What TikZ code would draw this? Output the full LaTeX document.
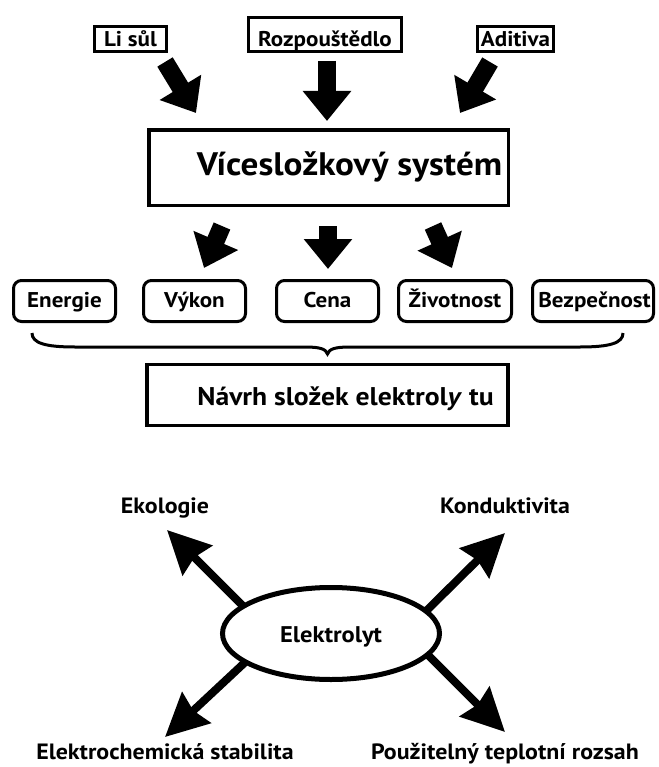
\documentclass[tikz,border=0pt]{standalone}
\usepackage{fontspec}
\setmainfont{PT Sans}[FakeStretch=1.08]
\usetikzlibrary{arrows.meta,shapes.geometric}
\begin{document}
\begin{tikzpicture}[x=0.75pt,y=-0.75pt,
  lbl/.style={anchor=base,inner sep=0pt,font=\fontsize{16}{20}\selectfont\bfseries},
  outlbl/.style={anchor=base,inner sep=0pt,font=\fontsize{16.6}{20}\selectfont\bfseries},
  biglbl/.style={anchor=base,inner sep=0pt,font=\fontsize{24.4}{28}\selectfont\bfseries},
  midlbl/.style={anchor=base,inner sep=0pt,font=\fontsize{19.2}{22}\selectfont\bfseries},
  sqbox/.style={draw,line width=2.25pt,inner sep=0pt,fill=white},
  bigbox/.style={draw,line width=2.6pt,inner sep=0pt,fill=white},
  rbox/.style={draw,line width=2.25pt,inner sep=0pt,rounded corners=6pt,minimum height=30.75pt},
  fatarrow/.style={line width=13.5pt,-{Triangle[length=22.5pt,width=35pt]}},
  slimarrow/.style={line width=6pt,-{Stealth[length=32pt,width=31pt,inset=3pt]}},
]
\useasboundingbox (0,0) rectangle (658,767);

% top inputs
\node[sqbox,minimum width=54pt,minimum height=18.75pt] (lisul) at (130.5,39) {};
\node[sqbox,minimum width=114.75pt,minimum height=25.5pt] (rozp) at (325,34.5) {};
\node[sqbox,minimum width=57pt,minimum height=18.75pt] (adit) at (515.5,39) {};
\node[lbl] (tlisul) at (lisul.center |- 0,47) {Li sůl};
\node[lbl] (trozp) at (rozp.center |- 0,47) {Rozpouštědlo};
\node[lbl] (tadit) at (adit.center |- 0,47) {Aditiva};

% system box
\node[bigbox,minimum width=269.6pt,minimum height=56.6pt] (sys) at (328.5,167.5) {};
\node[biglbl] (tsys) at (349.5,175) {Vícesložkový systém};

% top arrows
\coordinate (a1s) at (165,62);  \coordinate (a1e) at (196,113);
\coordinate (a2s) at (327,61);  \coordinate (a2e) at (327,121);
\coordinate (a3s) at (490,62);  \coordinate (a3e) at (460,113);
\draw[fatarrow] (a1s) -- (a1e);
\draw[fatarrow] (a2s) -- (a2e);
\draw[fatarrow] (a3s) -- (a3e);

% second arrows
\coordinate (b1s) at (222,226); \coordinate (b1e) at (204,268);
\coordinate (b2s) at (328,226); \coordinate (b2e) at (328,269);
\coordinate (b3s) at (433,226); \coordinate (b3e) at (452,268);
\draw[fatarrow] (b1s) -- (b1e);
\draw[fatarrow] (b2s) -- (b2e);
\draw[fatarrow] (b3s) -- (b3e);

% property boxes
\node[rbox,minimum width=76.5pt] (en) at (64.5,301) {};
\node[rbox,minimum width=76.5pt] (vy) at (194.5,301) {};
\node[rbox,minimum width=76.5pt] (ce) at (327.5,301) {};
\node[rbox,minimum width=84.75pt] (zi) at (455,301) {};
\node[rbox,minimum width=90.75pt] (be) at (593,301) {};
\node[lbl] (ten) at (en.center |- 0,307.5) {Energie};
\node[lbl] (tvy) at (vy.center |- 0,307.5) {Výkon};
\node[lbl] (tce) at (ce.center |- 0,307.5) {Cena};
\node[lbl] (tzi) at (zi.center |- 0,307.5) {Životnost};
\node[lbl] (tbe) at (594.5,307.5) {Bezpečnost};

% brace
\draw[line width=2.25pt] (32,333) .. controls (32,343) and (45,347) .. (75,347) -- (305,347)
  .. controls (320,347) and (326,349) .. (327.5,354)
  .. controls (329,349) and (335,347) .. (350,347) -- (580,347)
  .. controls (610,347) and (623,343) .. (623,333);

% design box
\node[bigbox,minimum width=271pt,minimum height=45.4pt] (nav) at (327.5,395) {};
\node[midlbl] (tnav) at (345.5,405) {Návrh složek elektrol\textit{y} tu};

% electrolyte arrows
\coordinate (ulS) at (255,618); \coordinate (ulE) at (167,530);
\coordinate (urS) at (415,622); \coordinate (urE) at (505,533);
\coordinate (llS) at (255,653); \coordinate (llE) at (165,737);
\coordinate (lrS) at (418,645); \coordinate (lrE) at (505,732);
\draw[slimarrow] (ulS) -- (ulE);
\draw[slimarrow] (urS) -- (urE);
\draw[slimarrow] (llS) -- (llE);
\draw[slimarrow] (lrS) -- (lrE);

\node[ellipse,draw,line width=3.75pt,fill=white,inner sep=0pt,minimum width=162.75pt,minimum height=69pt] (el) at (331,633.5) {};
\node[anchor=base,inner sep=0pt,font=\fontsize{17}{20}\selectfont\bfseries] (tel) at (331,642) {Elektrolyt};

\node[outlbl] (eko) at (165,513) {Ekologie};
\node[outlbl] (kon) at (505,513) {Konduktivita};
\node[outlbl] (ech) at (165,759) {Elektrochemická stabilita};
\node[outlbl] (pou) at (505,759) {Použitelný teplotní rozsah};
\end{tikzpicture}
\end{document}
